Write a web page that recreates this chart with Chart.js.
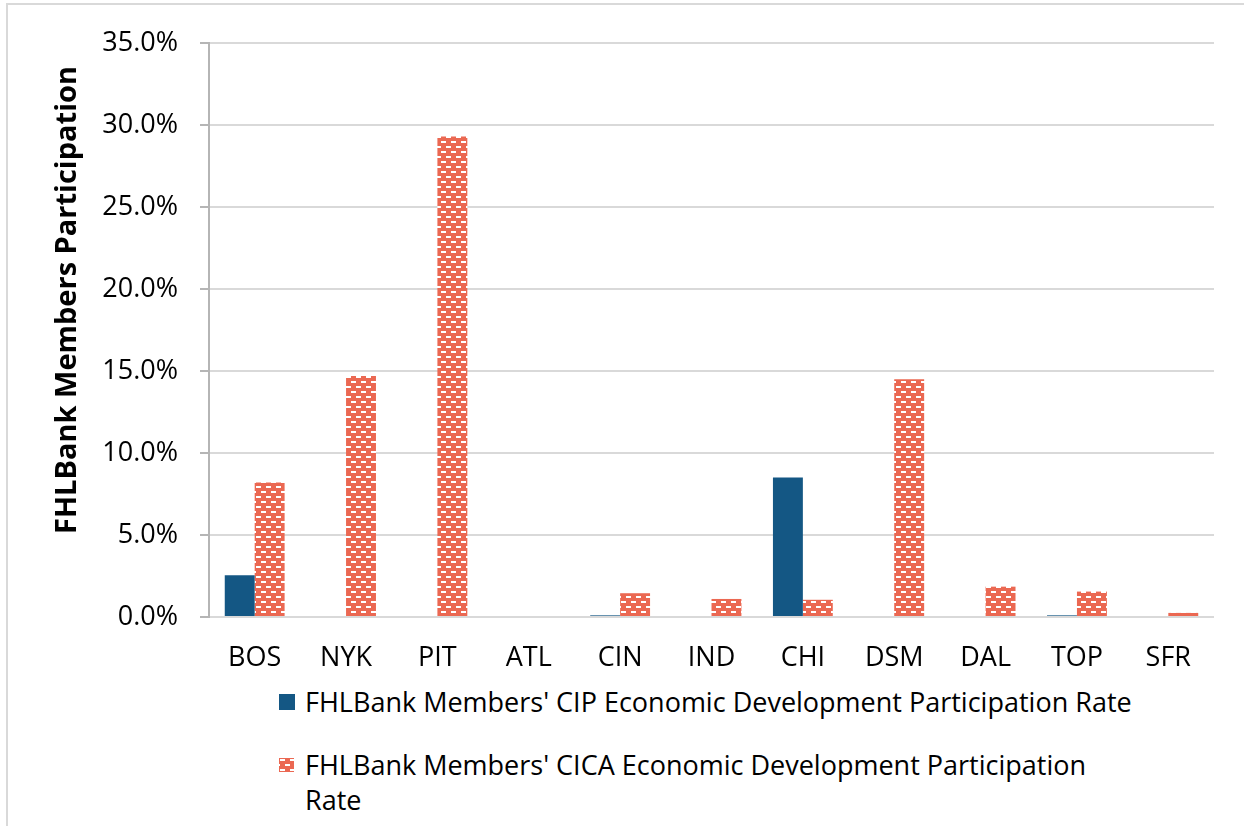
<!DOCTYPE html>
<html>
<head>
<meta charset="utf-8">
<script src="https://cdn.jsdelivr.net/npm/chart.js@4.4.1/dist/chart.umd.min.js"></script>
<style>
    body { margin: 0; background: #fff; width: 1244px; height: 826px; overflow: hidden; position: relative; font-family: 'Open Sans', sans-serif; }
    #frame { position: absolute; left: 6px; top: 3px; width: 1300px; height: 900px; border-left: 2px solid #d9d9d9; border-top: 2px solid #d9d9d9; }
    #wrap { position: absolute; left: 0; top: 0; width: 1244px; height: 680px; }
    #legend { position: absolute; left: 279px; top: 684px; font-size: 27px; color: #000; }
    .item { position: relative; padding-left: 26px; line-height: 35px; white-space: nowrap; }
    .item + .item { margin-top: 28px; }
    .sw { position: absolute; left: 0; top: 10px; }
</style>
</head>
<body>
<div id="frame"></div>
<div id="wrap"><canvas id="fhlChart" width="1244" height="680"></canvas></div>
<div id="legend">
    <div class="item"><canvas class="sw" id="swCip" width="16" height="16"></canvas>FHLBank Members' CIP Economic Development Participation Rate</div>
    <div class="item"><canvas class="sw" id="swCica" width="15" height="14" style="top:11px"></canvas>FHLBank Members' CICA Economic Development Participation<br>Rate</div>
</div>
<script>
    // данные с картинки (в процентах)
    const categories = ['BOS', 'NYK', 'PIT', 'ATL', 'CIN', 'IND', 'CHI', 'DSM', 'DAL', 'TOP', 'SFR'];
    const cipRate = [2.55, 0, 0, 0, 0.1, 0, 8.5, 0, 0, 0.1, 0];
    const cicaRate = [8.2, 14.7, 29.3, 0, 1.45, 1.1, 1.05, 14.5, 1.85, 1.55, 0.25];
    const yTicks = [0, 5, 10, 15, 20, 25, 30, 35];
    const yTitle = 'FHLBank Members Participation';

    const blue = '#145784';
    const red = '#eb6852';
    const fontFamily = "'Open Sans'";

    // узор "кирпичики" для второй серии
    function makePattern(ctx) {
        const tile = document.createElement('canvas');
        tile.width = 10;
        tile.height = 10;
        const t = tile.getContext('2d');
        t.fillStyle = red;
        t.fillRect(0, 0, 10, 10);
        t.fillStyle = '#ffffff';
        t.fillRect(1, 1, 5, 2);
        t.fillRect(6, 6, 4, 2);
        t.fillRect(0, 6, 1, 2);
        return ctx.createPattern(tile, 'repeat');
    }

    const ctx = document.getElementById('fhlChart').getContext('2d');
    const cicaPattern = makePattern(ctx);

    // подпись оси Y рисуем сами, чтобы поставить её как в оригинале
    const yTitlePlugin = {
        id: 'yTitle',
        afterDraw(chart) {
            const c = chart.ctx;
            c.save();
            c.translate(68, 300);
            c.rotate(-Math.PI / 2);
            c.font = 'bold 29px ' + fontFamily;
            c.fillStyle = '#000';
            c.textAlign = 'center';
            c.textBaseline = 'middle';
            c.fillText(yTitle, 0, 0);
            c.restore();
        }
    };

    new Chart(ctx, {
        type: 'bar',
        data: {
            labels: categories,
            datasets: [{
                label: "FHLBank Members' CIP Economic Development Participation Rate",
                data: cipRate,
                backgroundColor: blue,
                borderWidth: 0
            }, {
                label: "FHLBank Members' CICA Economic Development Participation Rate",
                data: cicaRate,
                backgroundColor: cicaPattern,
                borderWidth: 0
            }]
        },
        options: {
            responsive: false,
            animation: false,
            categoryPercentage: 0.655,
            barPercentage: 1.0,
            layout: { padding: { top: 43, right: 30, left: 0, bottom: 0 } },
            plugins: {
                legend: { display: false },
                tooltip: { enabled: false }
            },
            scales: {
                x: {
                    grid: { display: false, drawTicks: false },
                    border: { display: false },
                    ticks: {
                        color: '#000',
                        padding: 25,
                        font: { family: fontFamily, size: 27 }
                    },
                    afterFit(scale) { scale.height = 63; }
                },
                y: {
                    min: 0,
                    max: 35,
                    afterBuildTicks(scale) { scale.ticks = yTicks.map(v => ({ value: v })); },
                    grid: {
                        color: '#d9d9d9',
                        lineWidth: 2,
                        tickLength: 9,
                        tickColor: '#b5b5b5',
                        tickWidth: 2
                    },
                    border: { color: '#b5b5b5', width: 2 },
                    ticks: {
                        color: '#000',
                        padding: 22,
                        font: { family: fontFamily, size: 27 },
                        callback: v => v.toFixed(1) + '%'
                    },
                    afterFit(scale) { scale.width = 209; }
                }
            }
        },
        plugins: [yTitlePlugin]
    });

    // значки легенды
    const s1 = document.getElementById('swCip').getContext('2d');
    s1.fillStyle = blue;
    s1.fillRect(0, 0, 16, 16);
    const s2 = document.getElementById('swCica').getContext('2d');
    s2.fillStyle = makePattern(s2);
    s2.fillRect(0, 0, 15, 14);
</script>
</body>
</html>
